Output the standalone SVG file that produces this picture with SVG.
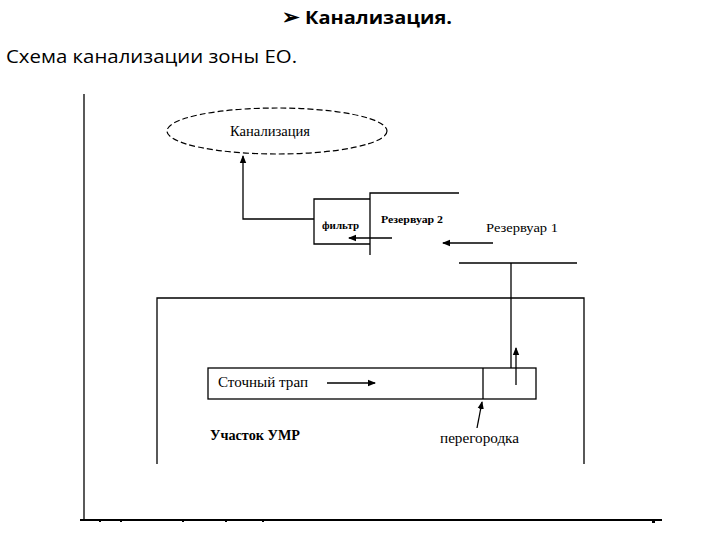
<svg xmlns="http://www.w3.org/2000/svg" width="720" height="540" viewBox="0 0 720 540">
<style>
.ln{stroke:#000;stroke-width:1.3;fill:none}
.tr{font-family:"Liberation Serif",serif;fill:#000}
.hd{font-family:"Open Sans","Noto Sans",sans-serif;fill:#000}
</style>
<defs>
<marker id="ah" markerWidth="8" markerHeight="8" refX="7" refY="4" orient="auto" markerUnits="userSpaceOnUse">
<path d="M0,0.8 L8,4 L0,7.2 Z" fill="#000"/>
</marker>
</defs>
<rect width="720" height="540" fill="#fff"/>
<g id="title">
<text class="hd" x="282" y="24" font-size="21" font-weight="bold">➢</text>
<text class="hd" x="305" y="24" font-size="18" font-weight="bold" textLength="147" lengthAdjust="spacingAndGlyphs">Канализация.</text>
<text class="hd" x="6" y="63" font-size="18" textLength="291" lengthAdjust="spacingAndGlyphs">Схема канализации зоны ЕО.</text>
</g>
<g id="frame">
<line class="ln" x1="84" y1="94" x2="84" y2="521"/>
<line x1="80" y1="520" x2="662" y2="520" stroke="#000" stroke-width="2.2"/>
<g fill="#000">
<rect x="99" y="520" width="2" height="2"/><rect x="120" y="520" width="2" height="2"/><rect x="182" y="520" width="2" height="2"/><rect x="225" y="520" width="2" height="2"/><rect x="262" y="520" width="2" height="2"/><rect x="652" y="520" width="3" height="3"/>
</g>
</g>
<g id="kanalizaciya">
<ellipse cx="277" cy="131" rx="110" ry="23" fill="none" stroke="#000" stroke-width="1.2" stroke-dasharray="6,3"/>
<text class="tr" x="230" y="136" font-size="14" textLength="80" lengthAdjust="spacingAndGlyphs">Канализация</text>
</g>
<g id="filtr">
<path class="ln" d="M370,199 H314 V244 H370"/>
<text class="tr" x="322" y="229" font-size="11" font-weight="bold" textLength="37" lengthAdjust="spacingAndGlyphs">фильтр</text>
</g>
<g id="rezervuar2">
<path class="ln" d="M459,193 H370 V255"/>
<text class="tr" x="381" y="223" font-size="11" font-weight="bold" textLength="62" lengthAdjust="spacingAndGlyphs">Резервуар 2</text>
</g>
<g id="rezervuar1">
<line class="ln" x1="459" y1="263" x2="577" y2="263"/>
<text class="tr" x="486" y="232" font-size="13" textLength="72" lengthAdjust="spacingAndGlyphs">Резервуар 1</text>
</g>
<g id="uchastok">
<path class="ln" d="M157,464 V298 H584 V464"/>
<text class="tr" x="210" y="440" font-size="14" font-weight="bold" textLength="90" lengthAdjust="spacingAndGlyphs">Участок УМР</text>
</g>
<g id="trap">
<rect class="ln" x="208" y="368" width="328" height="31"/>
<line class="ln" x1="483" y1="368" x2="483" y2="399"/>
<text class="tr" x="218" y="387" font-size="14" textLength="90" lengthAdjust="spacingAndGlyphs">Сточный трап</text>
</g>
<g id="peregorodka">
<text class="tr" x="440" y="443" font-size="14" textLength="79" lengthAdjust="spacingAndGlyphs">перегородка</text>
</g>
<g id="connectors">
<line class="ln" x1="511" y1="263" x2="511" y2="368"/>
<path class="ln" d="M314,219 H243 V156" marker-end="url(#ah)"/>
<line class="ln" x1="392" y1="238" x2="349" y2="238" marker-end="url(#ah)"/>
<line class="ln" x1="493" y1="243" x2="443" y2="243" marker-end="url(#ah)"/>
<line class="ln" x1="327" y1="383" x2="375" y2="383" marker-end="url(#ah)"/>
<line class="ln" x1="516" y1="385" x2="516" y2="348" marker-end="url(#ah)"/>
<line class="ln" x1="477" y1="428" x2="482" y2="402" marker-end="url(#ah)"/>
</g>
</svg>
